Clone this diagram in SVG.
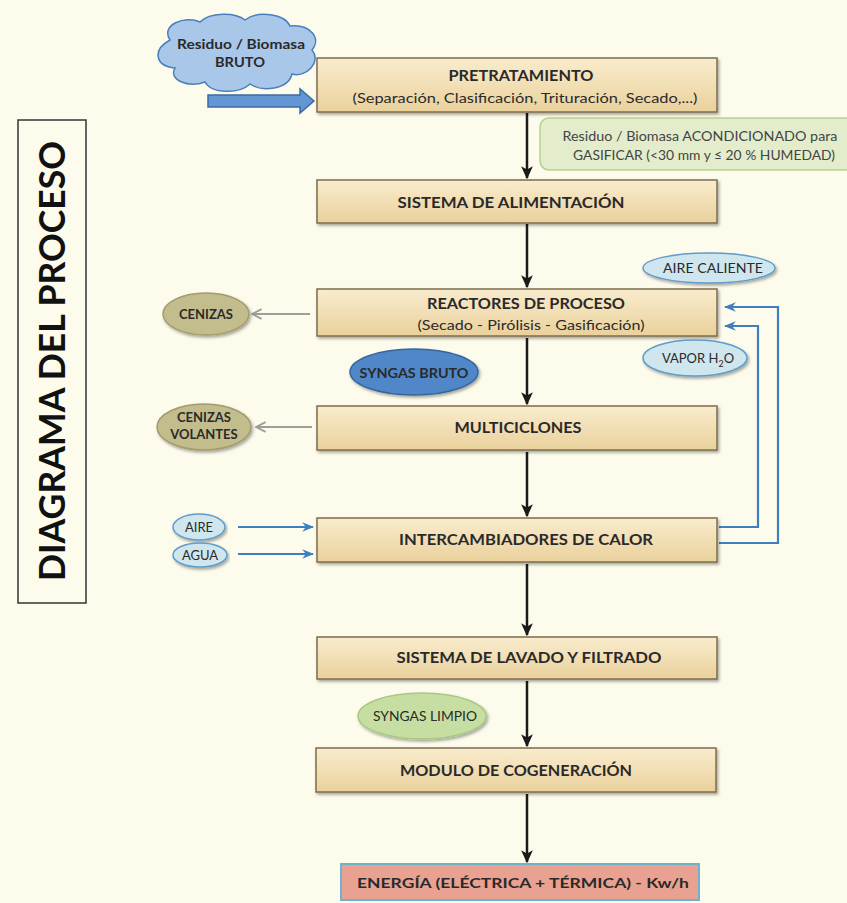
<svg xmlns="http://www.w3.org/2000/svg" width="847" height="903" viewBox="0 0 847 903">
<defs>
<linearGradient id="boxg" x1="0" y1="0" x2="0" y2="1">
<stop offset="0" stop-color="#f9eccd"/>
<stop offset="1" stop-color="#ead19c"/>
</linearGradient>
<filter id="sh" x="-5%" y="-20%" width="110%" height="150%">
<feDropShadow dx="1.5" dy="2" stdDeviation="1.5" flood-color="#000" flood-opacity="0.35"/>
</filter>
<marker id="ab" viewBox="0 0 10 10" refX="9" refY="5" markerWidth="13" markerHeight="13" orient="auto" markerUnits="userSpaceOnUse">
<path d="M0,0.5 L10,5 L0,9.5 L2.5,5 z" fill="#1a1a1a"/>
</marker>
<marker id="ag" viewBox="0 0 10 10" refX="9" refY="5" markerWidth="12" markerHeight="12" orient="auto" markerUnits="userSpaceOnUse">
<path d="M1,1 L9,5 L1,9" fill="none" stroke="#a19d98" stroke-width="1.6"/>
</marker>
<marker id="abl" viewBox="0 0 10 10" refX="9" refY="5" markerWidth="12" markerHeight="12" orient="auto" markerUnits="userSpaceOnUse">
<path d="M0,1 L10,5 L0,9 L3,5 z" fill="#3f7fc0"/>
</marker>
<style>
.box{fill:url(#boxg);stroke:#7d6c4d;stroke-width:1.5;filter:url(#sh)}
.t{font-family:Lato,"Open Sans","Liberation Sans",sans-serif;font-weight:bold;fill:#2a2a2a;text-anchor:middle}
.s{font-family:Lato,"Open Sans","Liberation Sans",sans-serif;fill:#2a2a2a;text-anchor:middle}
.blk{stroke:#1a1a1a;stroke-width:2.5;fill:none;marker-end:url(#ab)}
.gry{stroke:#a19d98;stroke-width:2;fill:none;marker-end:url(#ag)}
.blu{stroke:#3f7fc0;stroke-width:2.2;fill:none;marker-end:url(#abl)}
.olive{fill:#c3bc8c;stroke:#a29b6d;stroke-width:1.5;filter:url(#sh)}
.lblue{fill:#cfe6ef;stroke:#5f9ccb;stroke-width:1.5;filter:url(#sh)}
</style>
</defs>
<rect width="847" height="903" fill="#fdfcec"/>

<g id="title">
<rect x="18" y="120" width="68" height="483" fill="#fdfcec" stroke="#333" stroke-width="1.5"/>
<text class="t" transform="translate(65,361) rotate(-90)" font-size="37" textLength="440" lengthAdjust="spacingAndGlyphs" style="fill:#111">DIAGRAMA DEL PROCESO</text>
</g>

<g id="connectors">
<line class="blk" x1="527" y1="113" x2="527" y2="178"/>
<line class="blk" x1="527" y1="224" x2="527" y2="287"/>
<line class="blk" x1="527" y1="338" x2="527" y2="404"/>
<line class="blk" x1="527" y1="452" x2="527" y2="516"/>
<line class="blk" x1="527" y1="564" x2="527" y2="635"/>
<line class="blk" x1="527" y1="681" x2="527" y2="746"/>
<line class="blk" x1="527" y1="794" x2="527" y2="862"/>
<line class="gry" x1="310" y1="314" x2="252" y2="314"/>
<line class="gry" x1="312" y1="427" x2="256" y2="427"/>
<line class="blu" x1="238" y1="527" x2="313" y2="527"/>
<line class="blu" x1="238" y1="554" x2="313" y2="554"/>
<polyline class="blu" points="719,527 758,527 758,326 725,326"/>
<polyline class="blu" points="719,543 778,543 778,307 725,307"/>
<path d="M208,95 H300 V89 L314,101 L300,113 V107 H208 Z" fill="#6296d4" stroke="#3c6aa3" stroke-width="1.5"/>
</g>

<g id="cloud">
<path d="M170,40 C160,25 185,15 200,22 C210,12 235,12 245,20 C258,10 285,14 290,26 C310,24 322,38 312,50 C322,62 306,78 292,74 C288,90 262,92 250,84 C238,95 210,93 205,82 C188,88 168,80 175,68 C155,66 152,50 170,40 Z" fill="#a9c7e8" stroke="#4a7fbd" stroke-width="1.5"/>
<text class="t" x="241" y="49" font-size="13" textLength="128" lengthAdjust="spacingAndGlyphs">Residuo / Biomasa</text>
<text class="t" x="240" y="67" font-size="13" textLength="50" lengthAdjust="spacingAndGlyphs">BRUTO</text>
</g>

<g id="pretratamiento">
<rect class="box" x="317" y="58" width="400" height="54"/>
<text class="t" x="521" y="81" font-size="15" textLength="145" lengthAdjust="spacingAndGlyphs">PRETRATAMIENTO</text>
<text class="s" x="525" y="103" font-size="14" textLength="345" lengthAdjust="spacingAndGlyphs">(Separación, Clasificación, Trituración, Secado,...)</text>
</g>

<g id="acondicionado">
<rect x="540" y="118" width="320" height="52" rx="9" fill="#e3edcc" stroke="#b6cf8f" stroke-width="1.5"/>
<text class="s" x="700" y="141" font-size="13" textLength="275" lengthAdjust="spacingAndGlyphs" style="fill:#444">Residuo / Biomasa ACONDICIONADO para</text>
<text class="s" x="704" y="160" font-size="13" textLength="262" lengthAdjust="spacingAndGlyphs" style="fill:#444">GASIFICAR (&lt;30 mm y ≤ 20 % HUMEDAD)</text>
</g>

<g id="alimentacion">
<rect class="box" x="317" y="180" width="400" height="43"/>
<text class="t" x="511" y="208" font-size="15" textLength="227" lengthAdjust="spacingAndGlyphs">SISTEMA DE ALIMENTACIÓN</text>
</g>

<g id="aire-caliente">
<ellipse class="lblue" cx="709" cy="268" rx="66" ry="15"/>
<text class="s" x="713" y="273" font-size="13" textLength="100" lengthAdjust="spacingAndGlyphs">AIRE CALIENTE</text>
</g>

<g id="reactores">
<rect class="box" x="317" y="289" width="400" height="47"/>
<text class="t" x="526" y="309" font-size="15" textLength="198" lengthAdjust="spacingAndGlyphs">REACTORES DE PROCESO</text>
<text class="s" x="531" y="330" font-size="14" textLength="227" lengthAdjust="spacingAndGlyphs">(Secado - Pirólisis - Gasificación)</text>
</g>

<g id="cenizas">
<ellipse class="olive" cx="206" cy="314" rx="43" ry="21"/>
<text class="t" x="206" y="319" font-size="13">CENIZAS</text>
</g>

<g id="syngas-bruto">
<ellipse cx="414" cy="372" rx="64" ry="23" fill="#4f87c8" stroke="#36659c" stroke-width="1.5" filter="url(#sh)"/>
<text class="t" x="414" y="378" font-size="13" textLength="109" lengthAdjust="spacingAndGlyphs">SYNGAS BRUTO</text>
</g>

<g id="vapor">
<ellipse class="lblue" cx="695" cy="358" rx="52" ry="18"/>
<text class="s" x="698" y="363" font-size="13">VAPOR H<tspan font-size="9" dy="4">2</tspan><tspan dy="-4">O</tspan></text>
</g>

<g id="multiciclones">
<rect class="box" x="317" y="406" width="400" height="44"/>
<text class="t" x="518" y="433" font-size="15" textLength="127" lengthAdjust="spacingAndGlyphs">MULTICICLONES</text>
</g>

<g id="cenizas-volantes">
<ellipse class="olive" cx="204" cy="427" rx="47" ry="23"/>
<text class="t" x="204" y="422" font-size="13">CENIZAS</text>
<text class="t" x="204" y="439" font-size="13">VOLANTES</text>
</g>

<g id="aire">
<ellipse class="lblue" cx="199" cy="527" rx="26" ry="13"/>
<text class="s" x="199" y="532" font-size="13">AIRE</text>
</g>

<g id="agua">
<ellipse class="lblue" cx="200" cy="555" rx="27" ry="12"/>
<text class="s" x="200" y="560" font-size="13">AGUA</text>
</g>

<g id="intercambiadores">
<rect class="box" x="317" y="518" width="400" height="44"/>
<text class="t" x="526" y="545" font-size="15" textLength="254" lengthAdjust="spacingAndGlyphs">INTERCAMBIADORES DE CALOR</text>
</g>

<g id="lavado">
<rect class="box" x="317" y="637" width="400" height="42"/>
<text class="t" x="529" y="663" font-size="15" textLength="265" lengthAdjust="spacingAndGlyphs">SISTEMA DE LAVADO Y FILTRADO</text>
</g>

<g id="syngas-limpio">
<ellipse cx="422" cy="716" rx="64" ry="23" fill="#c6dea2" stroke="#a9c884" stroke-width="1.5" filter="url(#sh)"/>
<text class="s" x="425" y="721" font-size="13" textLength="104" lengthAdjust="spacingAndGlyphs">SYNGAS LIMPIO</text>
</g>

<g id="cogeneracion">
<rect class="box" x="316" y="748" width="400" height="44"/>
<text class="t" x="516" y="776" font-size="15" textLength="232" lengthAdjust="spacingAndGlyphs">MODULO DE COGENERACIÓN</text>
</g>

<g id="energia">
<rect x="341" y="864" width="358" height="36" fill="#e9a291" stroke="#6db3c9" stroke-width="2"/>
<text class="t" x="523" y="888" font-size="14" textLength="332" lengthAdjust="spacingAndGlyphs">ENERGÍA (ELÉCTRICA + TÉRMICA) -  Kw/h</text>
</g>
</svg>
